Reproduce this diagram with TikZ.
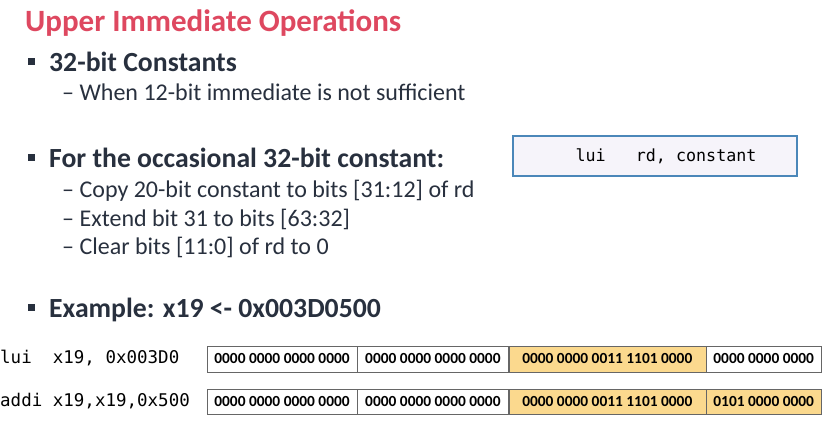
\documentclass[tikz,border=0pt]{standalone}
\usepackage{fontspec}
\setmainfont{Carlito}
\setmonofont{DejaVu Sans Mono}
\usetikzlibrary{positioning}
\definecolor{titlered}{RGB}{222,72,96}
\definecolor{textgray}{RGB}{40,48,62}
\definecolor{cellgold}{RGB}{251,217,142}
\definecolor{boxblue}{RGB}{75,135,185}
\definecolor{boxfill}{RGB}{246,244,250}
\tikzset{
 heading/.style={anchor=base west,inner sep=0pt,text=textgray,font=\fontsize{27.7}{30}\selectfont\bfseries},
 subitem/.style={anchor=base west,inner sep=0pt,text=textgray,font=\fontsize{24}{28}\selectfont},
 sqbullet/.style={fill=textgray,minimum size=7pt,inner sep=0pt},
 codetext/.style={anchor=base west,inner sep=0pt,font=\fontsize{17.5}{20}\selectfont\ttfamily},
 bitcell/.style={draw=black!60,minimum height=25pt,inner sep=0pt,font=\fontsize{15.4}{18}\selectfont\bfseries},
}
\begin{document}
\begin{tikzpicture}[x=1pt,y=-1pt]
 \useasboundingbox (0,0) rectangle (831,435);
 \node[anchor=base west,inner sep=0pt,text=titlered,font=\fontsize{31}{34}\selectfont\bfseries] (title) at (25,32) {Upper Immediate Operations}; %タイトル
 % 1つ目の項目
 \node[sqbullet] (b1) at (31.5,61.5) {};
 \node[heading] (h1) at (49,72) {32-bit Constants};
 \node[subitem] (s1) at (62,101) {-- When 12-bit immediate is not sufficient};
 % 2つ目の項目
 \node[sqbullet] (b2) at (31.5,157.5) {};
 \node[heading] (h2) at (49,168) {For the occasional 32-bit constant:};
 \node[subitem] (s2) at (62,198) {-- Copy 20-bit constant to bits [31:12] of rd};
 \node[subitem] (s3) at (62,227) {-- Extend bit 31 to bits [63:32]};
 \node[subitem] (s4) at (62,255) {-- Clear bits [11:0] of rd to 0};
 % 命令の形式
 \node[draw=boxblue,fill=boxfill,line width=1.2pt,minimum width=284pt,minimum height=40pt] (fmt) at (655,156) {};
 \node[font=\fontsize{16.7}{20}\selectfont\ttfamily] (fmttext) at ([xshift=11pt]fmt.center) {lui\ \ \ rd, constant};
 % 例
 \node[sqbullet] (b3) at (31.5,307.5) {};
 \node[heading] (h3) at (49,318) {Example: x19 <- 0x003D0500};
 \node[codetext] (lui) at (0,364) {lui\ \ x19, 0x003D0};
 \node[codetext] (addi) at (0,407) {addi x19,x19,0x500};
 % lui のビット列
 \node[bitcell,minimum width=150pt,minimum height=26pt] (r1a) at (282,359) {0000 0000 0000 0000};
 \node[bitcell,minimum width=151pt,minimum height=26pt,right=0pt of r1a] (r1b) {0000 0000 0000 0000};
 \node[bitcell,minimum width=197pt,minimum height=26pt,fill=cellgold,right=0pt of r1b] (r1c) {0000 0000 0011 1101 0000};
 \node[bitcell,minimum width=115pt,minimum height=26pt,right=0pt of r1c] (r1d) {0000 0000 0000};
 % addi のビット列
 \node[bitcell,minimum width=150pt] (r2a) at (282,401.5) {0000 0000 0000 0000};
 \node[bitcell,minimum width=151pt,right=0pt of r2a] (r2b) {0000 0000 0000 0000};
 \node[bitcell,minimum width=197pt,fill=cellgold,right=0pt of r2b] (r2c) {0000 0000 0011 1101 0000};
 \node[bitcell,minimum width=115pt,fill=cellgold,right=0pt of r2c] (r2d) {0101 0000 0000};
\end{tikzpicture}
\end{document}
